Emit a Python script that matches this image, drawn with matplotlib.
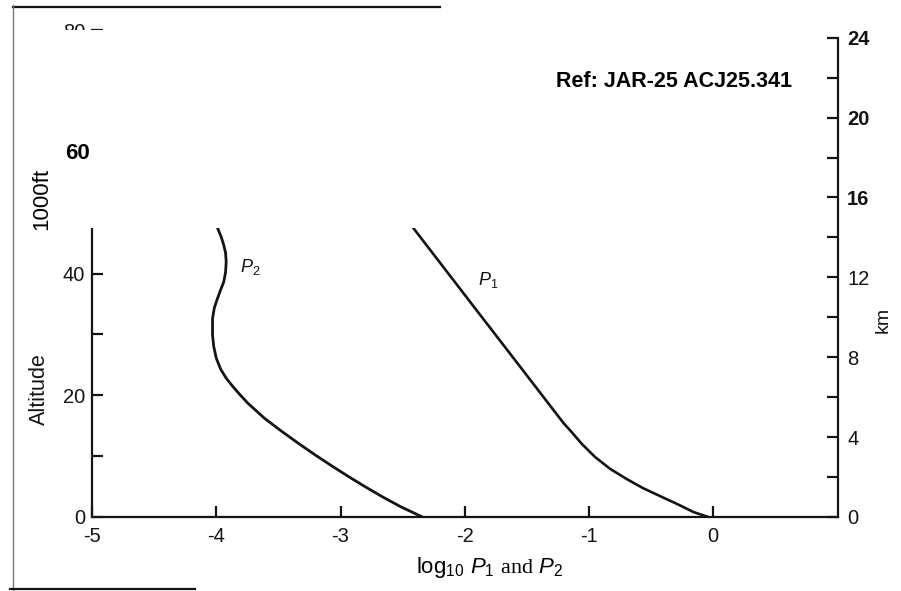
import matplotlib
matplotlib.use("Agg")
import matplotlib.pyplot as plt
from matplotlib.patches import Rectangle
from matplotlib.lines import Line2D

plt.rcParams['font.family'] = ['Liberation Sans', 'DejaVu Sans']
plt.rcParams['axes.unicode_minus'] = False
plt.rcParams['mathtext.fontset'] = 'custom'
plt.rcParams['mathtext.rm'] = 'Liberation Sans'
plt.rcParams['mathtext.it'] = 'Liberation Sans:italic'
plt.rcParams['mathtext.bf'] = 'Liberation Sans:bold'
plt.rcParams['mathtext.tt'] = 'Liberation Serif'

# ---------------- data ----------------
p1_alt_kft = [0, 0.82, 2.13, 3.45, 4.76, 6.24, 7.88, 9.85, 11.99, 14.12, 15.4,
              25, 35, 47.5]
p1_log = [-0.04, -0.16, -0.29, -0.43, -0.567, -0.697, -0.828, -0.951, -1.057, -1.147,
          -1.204, -1.566, -1.944, -2.415]

p2_alt_kft = [0, 1.7, 3.3, 5.0, 6.6, 8.3, 10.2, 12.1, 14.1, 16.2, 18.7, 20.0, 21.4,
              22.8, 24.3, 26.1, 28.0, 29.9, 32.6, 34.4, 35.9, 37.3, 38.6, 40.2,
              41.9, 43.4, 44.7, 46.0, 47.5]
p2_log = [-2.34, -2.517, -2.661, -2.804, -2.932, -3.063, -3.204, -3.339, -3.475, -3.611,
          -3.746, -3.805, -3.865, -3.92, -3.965, -4.00, -4.02, -4.03, -4.03, -4.015, -3.99,
          -3.965, -3.94, -3.925, -3.92, -3.925, -3.94, -3.96, -3.99]

x_ticks = [-5, -4, -3, -2, -1, 0]
x_labels = ['-5', '-4', '-3', '-2', '-1', '0']
ft_ticks = [0, 10, 20, 30, 40, 50, 60, 70, 80]
ft_labels = ['0', '', '20', '', '40', '', '', '', '80']
km_ticks = [0, 2, 4, 6, 8, 10, 12, 14, 16, 18, 20, 22, 24]
km_labels = ['0', '', '4', '', '8', '', '12', '', '16', '', '20', '', '24']
km_bold = ['16', '20', '24']
KFT_TO_KM = 0.3048
ft_max = 80

W, H = 901, 591
fig = plt.figure(figsize=(W / 100, H / 100), dpi=100)
fig.patch.set_facecolor('white')


def fx(px):
    return px / W


def fy(py):
    return 1 - py / H


ax = fig.add_axes([fx(92), fy(517), fx(837.5) - fx(92), fy(30) - fy(517)])
ax.set_xlim(-5, 1)
ax.set_ylim(0, ft_max)
ink = '#141414'

ax.plot(p1_log, p1_alt_kft, color=ink, lw=1.9, solid_capstyle='round',
        solid_joinstyle='round', zorder=3)
ax.plot(p2_log, p2_alt_kft, color=ink, lw=2.0, solid_capstyle='round',
        solid_joinstyle='round', zorder=3)

ax.text(-1.81, 38.9, r'$P_1$', fontsize=13, ha='center', va='center', color=ink)
ax.text(-3.73, 41.0, r'$P_2$', fontsize=13, ha='center', va='center', color=ink)

for s in ['top', 'right']:
    ax.spines[s].set_visible(False)
for s in ['left', 'bottom']:
    ax.spines[s].set_linewidth(1.6)
    ax.spines[s].set_color(ink)

ax.set_xticks(x_ticks, labels=x_labels)
ax.set_yticks(ft_ticks, labels=ft_labels)
ax.tick_params(axis='x', direction='in', length=8, width=1.6, color=ink,
               labelsize=14.5, pad=7, labelcolor=ink)
ax.tick_params(axis='y', direction='in', length=8, width=1.6, color=ink,
               labelsize=14.5, pad=5, labelcolor=ink)

ax2 = ax.twinx()
ax2.set_ylim(0, ft_max * KFT_TO_KM)
for s in ['top', 'left', 'bottom']:
    ax2.spines[s].set_visible(False)
ax2.spines['right'].set_linewidth(1.6)
ax2.spines['right'].set_color(ink)
ax2.spines['right'].set_bounds(km_ticks[0], km_ticks[-1])
ax2.set_yticks(km_ticks, labels=km_labels)
ax2.tick_params(axis='y', direction='in', length=8, width=1.6, color=ink,
                labelsize=14.5, pad=7, labelcolor=ink)
for lbl in ax2.get_yticklabels():
    if lbl.get_text() in km_bold:
        lbl.set_fontweight('bold')

# white mask over the upper part of the scanned figure
fig.patches.append(Rectangle((fx(14), fy(228)), fx(824) - fx(14), fy(30) - fy(228),
                             transform=fig.transFigure, facecolor='white',
                             edgecolor='none', zorder=2))

# page border remnants
fig.add_artist(Line2D([fx(13), fx(440)], [fy(7), fy(7)], color=ink, lw=1.6, zorder=4))
fig.add_artist(Line2D([fx(13), fx(13)], [fy(5), fy(590)], color='#777777', lw=1.0, zorder=4))
fig.add_artist(Line2D([fx(10), fx(195)], [fy(589), fy(589)], color=ink, lw=1.6, zorder=4))

# overlaid texts
fig.text(fx(77.5), fy(153.5), '60', fontsize=16, fontweight='bold', ha='center',
         va='center', color='black', zorder=5)
fig.text(fx(41.5), fy(199), '1000ft', fontsize=16, rotation=90, ha='center',
         va='center', color='black', zorder=5)
fig.text(fx(39), fy(389), 'Altitude', fontsize=15.5, rotation=90, ha='center',
         va='center', color=ink, zorder=5)
fig.text(fx(674), fy(81.7), 'Ref: JAR-25 ACJ25.341', fontsize=15.5, fontweight='bold',
         ha='center', va='center', color='black', zorder=5)
fig.text(fx(883), fy(320), 'km', fontsize=14, rotation=90, ha='center', va='center',
         color=ink, zorder=5)
fig.text(fx(490), fy(567), r'log$_{10}$ $P_1$ $\mathtt{and}$ $P_2$', fontsize=16,
         ha='center', va='center', color='black', zorder=5)

fig.savefig('out.png', dpi=100, facecolor='white')
